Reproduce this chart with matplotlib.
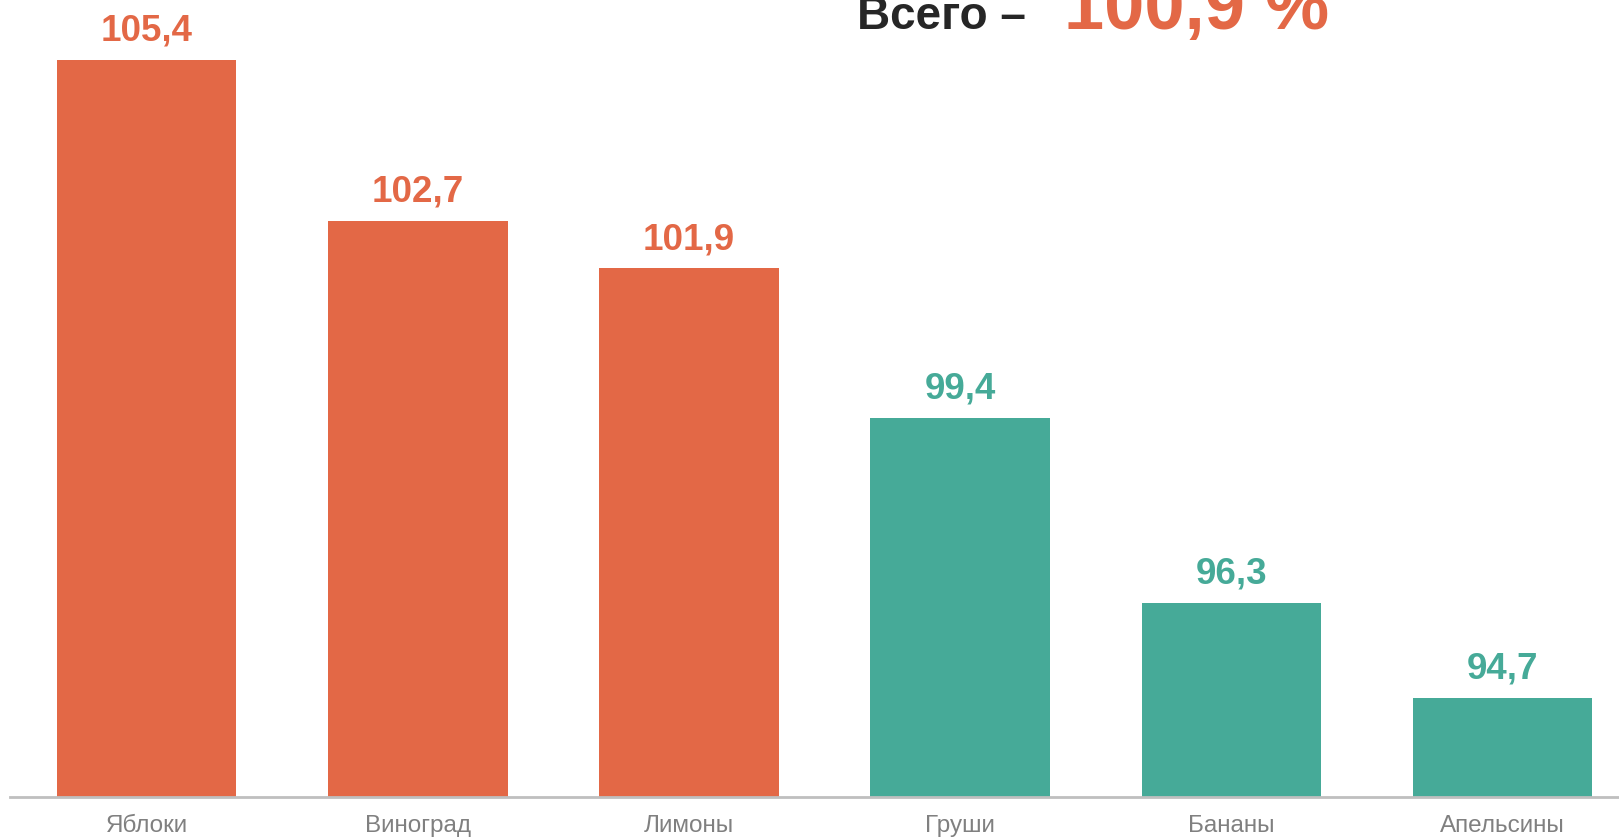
import matplotlib.pyplot as plt

plt.rcParams['font.family'] = ['Liberation Sans', 'DejaVu Sans']

# Data
categories = ['Яблоки', 'Виноград', 'Лимоны', 'Груши', 'Бананы', 'Апельсины']
values = [105.4, 102.7, 101.9, 99.4, 96.3, 94.7]
total_label = '100,9 %'

ORANGE = '#E36846'
TEAL = '#46AA98'
colors = [ORANGE if v >= 100 else TEAL for v in values]

fig = plt.figure(figsize=(16.19, 8.38), dpi=100)
ax = fig.add_axes([10 / 1619, 41 / 838, 1 - 10 / 1619, 1 - 41 / 838])

x = range(len(categories))
ax.bar(x, values, width=0.662, color=colors, zorder=2)

for xi, v, c in zip(x, values, colors):
    ax.annotate(f'{v:.1f}'.replace('.', ','), (xi, v), xytext=(0, 8),
                textcoords='offset points', ha='center', va='bottom',
                fontsize=26.5, fontweight='bold', color=c)

ax.set_xlim(-0.504, 5.43)
ax.set_ylim(93.04, 106.4)

ax.set_xticks(list(x))
ax.set_xticklabels(categories, fontsize=17.5, color='#808080')
ax.tick_params(axis='x', length=0, pad=13)
ax.set_yticks([])
for side in ['top', 'right', 'left']:
    ax.spines[side].set_visible(False)
ax.spines['bottom'].set_color('#BFBFBF')
ax.spines['bottom'].set_linewidth(2)

# Header (the big number is clipped at the top edge, as in the original)
fig.text(857 / 1619, 809 / 838, 'Всего –', ha='left', va='baseline',
         fontsize=33, fontweight='bold', color='#262626')
fig.text(1064 / 1619, 809 / 838, total_label, ha='left', va='baseline',
         fontsize=52, fontweight='bold', color=ORANGE)

fig.savefig('out.png', dpi=100)
